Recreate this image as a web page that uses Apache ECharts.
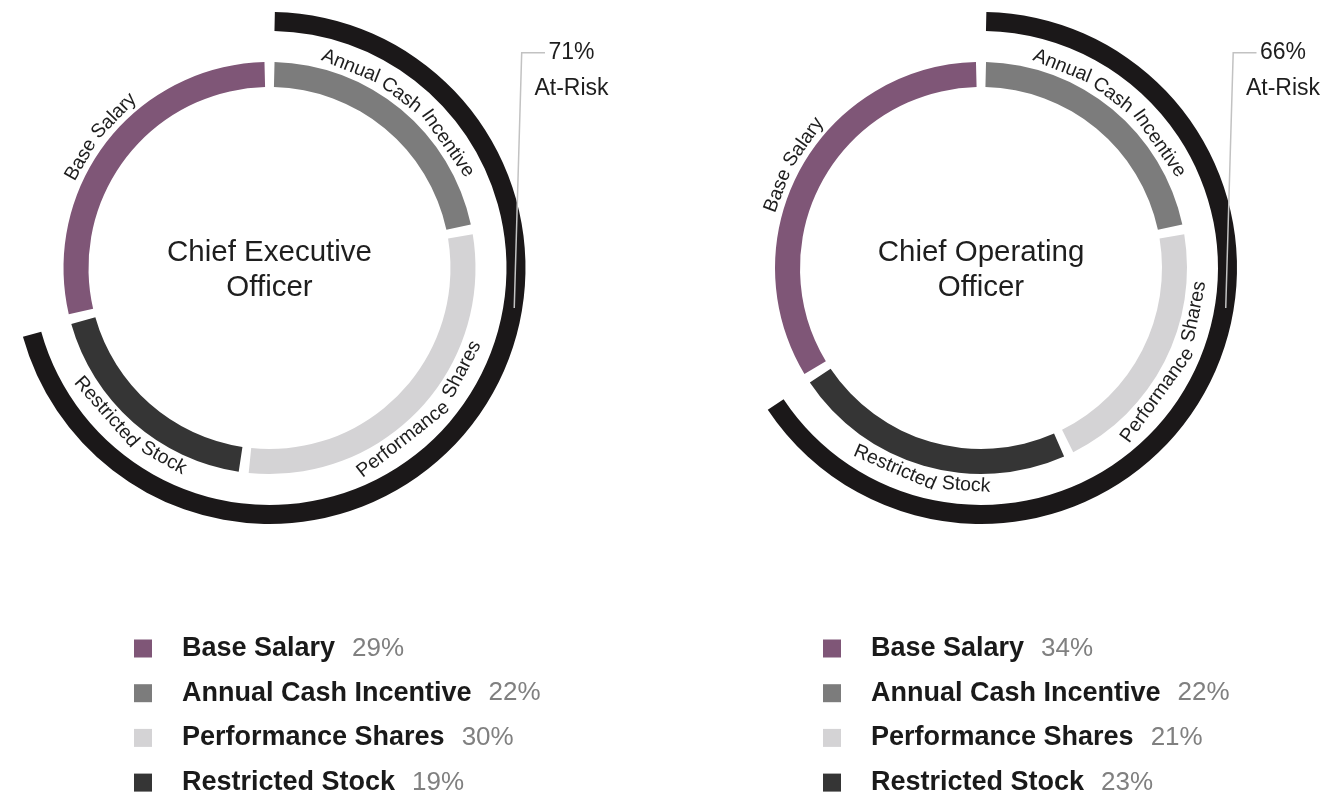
<!DOCTYPE html>
<html><head><meta charset="utf-8">
<script src="https://cdn.jsdelivr.net/npm/echarts@6/dist/echarts.min.js"></script>
<style>html,body{margin:0;padding:0;background:#fff}#c{width:1327px;height:801px}</style>
</head><body><div id="c"></div>
<script>
// ---------- data ----------
const categories = ['Base Salary', 'Annual Cash Incentive', 'Performance Shares', 'Restricted Stock'];
const ringOrder = ['Annual Cash Incentive', 'Performance Shares', 'Restricted Stock', 'Base Salary'];
const ceoValues = [29, 22, 30, 19];
const cooValues = [34, 22, 21, 23];
const atRiskCategories = ['Annual Cash Incentive', 'Performance Shares', 'Restricted Stock'];
const chartTitles = ['Chief Executive\nOfficer', 'Chief Operating\nOfficer'];
const atRiskText = 'At-Risk';

// ---------- style / layout ----------
const FONT = '"Liberation Sans", Arial, Helvetica, sans-serif';
const colorMap = {
  'Base Salary': '#7f5677',
  'Annual Cash Incentive': '#7c7c7c',
  'Performance Shares': '#d4d3d5',
  'Restricted Stock': '#353535'
};
const BLACK = '#1b1819';
const CENTERS = [[269.5, 268], [981, 268]];
const R_INNER = [181, 206];
const R_OUTER = [237, 256];
const LABEL_R = 217.5;
const LABEL_FS = 19.5;
const LEGEND_LEFT = [134, 823];

const measureCtx = document.createElement('canvas').getContext('2d');
measureCtx.font = LABEL_FS + 'px ' + FONT;

const chart = echarts.init(document.getElementById('c'), null, {renderer: 'canvas'});

function valuesInRingOrder(values) {
  return ringOrder.map(n => values[categories.indexOf(n)]);
}

function buildSeries(ci, values) {
  const [cx, cy] = CENTERS[ci];
  const ordered = valuesInRingOrder(values);
  const atRisk = atRiskCategories.reduce((s, n) => s + values[categories.indexOf(n)], 0);
  const rest = values.reduce((a, b) => a + b, 0) - atRisk;
  const sum = ordered.reduce((a, b) => a + b, 0);
  const mids = [];
  let acc = 0;
  ordered.forEach(v => { mids.push((acc + v / 2) / sum * Math.PI * 2); acc += v; });

  const inner = {
    type: 'pie', center: [cx, cy], radius: R_INNER, startAngle: 90, clockwise: true,
    padAngle: 2.8, silent: true, animation: false, avoidLabelOverlap: false,
    label: {show: false}, labelLine: {show: false}, emphasis: {disabled: true},
    data: ringOrder.map((n, i) => ({name: n, value: ordered[i], itemStyle: {color: colorMap[n]}}))
  };
  const outer = {
    type: 'pie', center: [cx, cy], radius: R_OUTER, startAngle: 90, clockwise: true,
    padAngle: 2.4, silent: true, animation: false, avoidLabelOverlap: false,
    label: {show: false}, labelLine: {show: false}, emphasis: {disabled: true},
    data: [
      {name: atRiskText, value: atRisk, itemStyle: {color: BLACK}},
      {name: '', value: rest, itemStyle: {color: 'rgba(0,0,0,0)'}}
    ]
  };
  const labels = {
    type: 'custom', coordinateSystem: 'none', silent: true, animation: false, z: 10,
    data: ordered.map(v => [v]),
    renderItem: function (params, api) {
      const name = ringOrder[params.dataIndex];
      const mid = mids[params.dataIndex];
      const words = name.split(' ');
      const spaceW = measureCtx.measureText(' ').width;
      const widths = words.map(w => measureCtx.measureText(w).width);
      const W = widths.reduce((a, b) => a + b, 0) + spaceW * (words.length - 1);
      const bottom = mid > Math.PI / 2 && mid < Math.PI * 1.5;
      let s = -W / 2;
      const children = [];
      words.forEach((w, i) => {
        const sc = s + widths[i] / 2;
        s += widths[i] + spaceW;
        const phi = sc / LABEL_R;
        const th = bottom ? mid - phi : mid + phi;
        const rot = bottom ? -(th + Math.PI) : -th;
        children.push({
          type: 'text',
          x: cx + LABEL_R * Math.sin(th),
          y: cy - LABEL_R * Math.cos(th),
          rotation: rot,
          style: {
            text: w, fill: '#1e1e1e', fontSize: LABEL_FS, fontFamily: FONT,
            textAlign: 'center', textVerticalAlign: 'middle',
            align: 'center', verticalAlign: 'middle'
          }
        });
      });
      return {type: 'group', children: children};
    }
  };
  return [inner, outer, labels];
}

function buildGraphics(ci, values) {
  const [cx, cy] = CENTERS[ci];
  const atRisk = atRiskCategories.reduce((s, n) => s + values[categories.indexOf(n)], 0);
  const anchorAng = 99.3 * Math.PI / 180;
  const rMid = (R_OUTER[0] + R_OUTER[1]) / 2 + 1.5;
  const p0 = [cx + rMid * Math.sin(anchorAng), cy - rMid * Math.cos(anchorAng)];
  const p1 = [cx + 252.2, cy - 215.3];
  const p2 = [cx + 275.5, cy - 215.3];
  return [
    {
      type: 'text', x: cx, y: cy + 2.5, silent: true,
      style: {
        text: chartTitles[ci], fill: '#1e1e1e', fontSize: 29.5, fontFamily: FONT, lineHeight: 35,
        textAlign: 'center', textVerticalAlign: 'middle', align: 'center', verticalAlign: 'middle'
      }
    },
    {
      type: 'polyline', silent: true, z: 100,
      shape: {points: [p0, p1, p2]},
      style: {stroke: '#c2c2c2', lineWidth: 1.5, fill: null}
    },
    {
      type: 'text', x: cx + 302, y: cy - 215.5, silent: true,
      style: {
        text: atRisk + '%', fill: '#1e1e1e', fontSize: 23, fontFamily: FONT,
        textAlign: 'center', textVerticalAlign: 'middle', align: 'center', verticalAlign: 'middle'
      }
    },
    {
      type: 'text', x: cx + 302, y: cy - 179.5, silent: true,
      style: {
        text: atRiskText, fill: '#1e1e1e', fontSize: 23, fontFamily: FONT,
        textAlign: 'center', textVerticalAlign: 'middle', align: 'center', verticalAlign: 'middle'
      }
    }
  ];
}

function buildLegend(ci, values) {
  return {
    data: categories, orient: 'vertical', left: LEGEND_LEFT[ci], top: 635, padding: 0,
    height: 300, width: 480,
    icon: 'rect', itemWidth: 18, itemHeight: 18, itemGap: 17.7, selectedMode: false,
    formatter: name => '{n|' + name + '}{v|' + values[categories.indexOf(name)] + '%}',
    textStyle: {
      rich: {
        n: {fontSize: 27, fontWeight: 'bold', color: '#1a1a1a', fontFamily: FONT, padding: [0, 0, 0, 25]},
        v: {fontSize: 26, color: '#808080', fontFamily: FONT, padding: [0, 0, 0, 17]}
      }
    }
  };
}

const option = {
  backgroundColor: '#ffffff',
  animation: false,
  legend: [buildLegend(0, ceoValues), buildLegend(1, cooValues)],
  series: [].concat(buildSeries(0, ceoValues), buildSeries(1, cooValues)),
  graphic: {elements: [].concat(buildGraphics(0, ceoValues), buildGraphics(1, cooValues))}
};
chart.setOption(option);
</script>
</body></html>
